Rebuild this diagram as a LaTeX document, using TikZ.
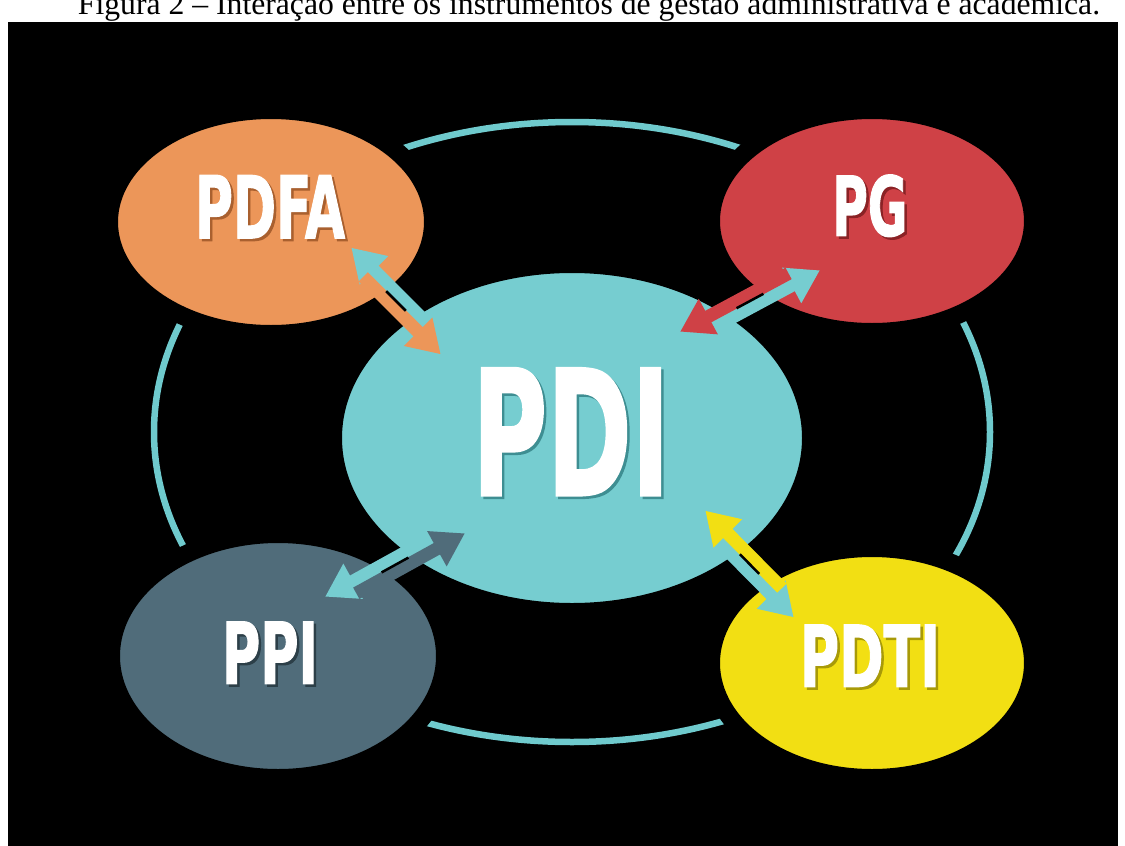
\documentclass[tikz,border=0pt]{standalone}
\usepackage{fontspec}
\usepackage{graphicx}
\setmainfont{Liberation Serif}
\newfontfamily\lbl{DejaVu Sans Condensed}[BoldFeatures={FakeBold=1.6}]
\usetikzlibrary{arrows.meta,calc,shapes.geometric}

\definecolor{ringteal}{HTML}{6FCACD}
\definecolor{pditeal}{HTML}{76CDD0}
\definecolor{pdfaor}{HTML}{EC9659}
\definecolor{pgred}{HTML}{CF4146}
\definecolor{ppislate}{HTML}{506C7A}
\definecolor{pdtiyel}{HTML}{F2DF13}
\definecolor{tealshade}{HTML}{3E8E92}
\definecolor{orshade}{HTML}{A9602F}
\definecolor{redshade}{HTML}{8A2225}
\definecolor{slateshade}{HTML}{2C3F48}
\definecolor{yelshade}{HTML}{A89A08}

\tikzset{
  bubble/.style={ellipse, draw=black, line width=18pt, inner sep=0pt},
  fat/.style={line width=13pt, -{Triangle[length=32pt,width=38pt]}, shorten <=29pt},
  seam/.style={black, line width=2.5pt},
}

% white label with a dark drop shadow, squeezed to the given box
\newcommand\shadowword[4]{%
  \makebox[0pt][l]{\hspace*{2.5pt}\raisebox{-2.5pt}{\color{#4}\resizebox{#1pt}{#2pt}{\lbl\bfseries #3}}}%
  {\color{white}\resizebox{#1pt}{#2pt}{\lbl\bfseries #3}}}

% two opposed half-arrows side by side, tips at A and B
\newcommand\duo[6]{%
  \draw[fat, #3] ($(#2)+(#5,#6)$) -- ($(#1)+(#5,#6)$);
  \draw[fat, #4] ($(#1)-(#5,#6)$) -- ($(#2)-(#5,#6)$);
  \draw[seam] ($(#1)!0.4!(#2)$) -- ($(#1)!0.6!(#2)$);
}

\begin{document}
\begin{tikzpicture}[x=1pt,y=-1pt]
\useasboundingbox (0,0) rectangle (1125,846);
\clip (0,0) rectangle (1125,846);
\fill[white] (0,0) rectangle (1125,846);

% caption
\node[anchor=base, inner sep=0pt] (cap) at (589,14)
  {\resizebox{1022pt}{!}{\fontsize{30pt}{36pt}\selectfont Figura 2 -- Interação entre os instrumentos de gestão administrativa e acadêmica.}};

% canvas
\fill[black] (8,22) rectangle (1118,846);

% outer ring
\node[ellipse, draw=ringteal, line width=6.5pt, inner sep=0pt,
      minimum width=836pt, minimum height=620pt] (ring) at (572,432) {};

% bubbles (black rim leaves a gap in the ring)
\node[bubble, fill=pdfaor,   minimum width=324pt, minimum height=224pt] (pdfa) at (271,222) {};
\node[bubble, fill=pgred,    minimum width=322pt, minimum height=222pt] (pg)   at (872,221) {};
\node[bubble, fill=ppislate, minimum width=334pt, minimum height=244pt] (ppi)  at (278,656) {};
\node[bubble, fill=pdtiyel,  minimum width=322pt, minimum height=230pt] (pdti) at (872,663) {};
\node[bubble, fill=pditeal,  minimum width=478pt, minimum height=348pt] (pdi)  at (572,438) {};

% arrow tips
\coordinate (a1) at (347,252); \coordinate (b1) at (445,350);
\coordinate (a2) at (817,265); \coordinate (b2) at (683,337);
\coordinate (a3) at (328,602); \coordinate (b3) at (462,528);
\coordinate (a4) at (798,613); \coordinate (b4) at (701,515);

\duo{a1}{b1}{pditeal}{pdfaor}{4.3}{-4.3}
\duo{a2}{b2}{pditeal}{pgred}{2.9}{5.3}
\duo{a3}{b3}{pditeal}{ppislate}{-2.9}{-5.3}
\duo{a4}{b4}{pditeal}{pdtiyel}{-4.3}{4.3}

% labels
\node[inner sep=0pt] (lpdfa) at (270,208) {\shadowword{150}{63}{PDFA}{orshade}};
\node[inner sep=0pt] (lpg)   at (870,207) {\shadowword{75}{61}{PG}{redshade}};
\node[inner sep=0pt] (lppi)  at (270,654) {\shadowword{96}{62}{PPI}{slateshade}};
\node[inner sep=0pt] (lpdti) at (870,657) {\shadowword{140}{62}{PDTI}{yelshade}};
\node[inner sep=0pt] (lpdi)  at (571,433) {\shadowword{197}{127}{PDI}{tealshade}};
\end{tikzpicture}
\end{document}
